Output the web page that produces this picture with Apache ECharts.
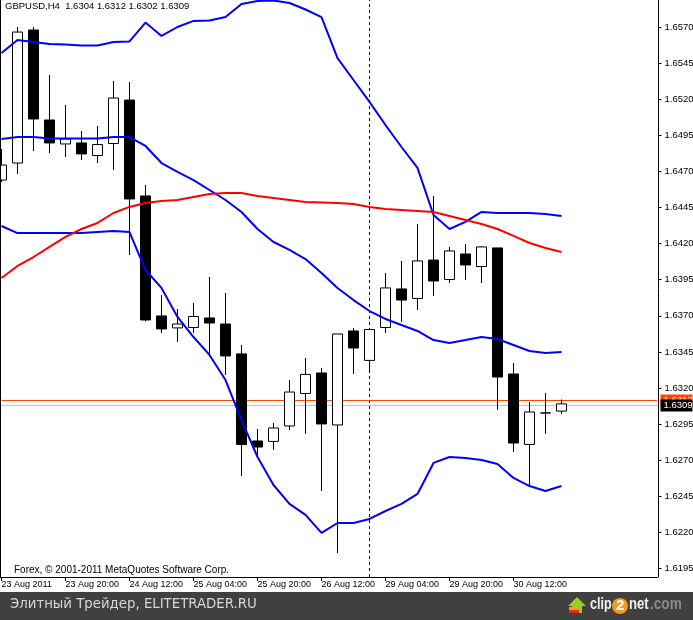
<!DOCTYPE html>
<html><head><meta charset="utf-8">
<style>html,body{margin:0;padding:0;background:#fff}#c{width:693px;height:620px}</style>
<script src="https://cdn.jsdelivr.net/npm/echarts@6/dist/echarts.min.js"></script>
</head><body><div id="c"></div>
<script>
const barLabels=["23 Aug 2011","23 Aug 08:00","23 Aug 12:00","23 Aug 16:00","23 Aug 20:00","24 Aug 00:00","24 Aug 04:00","24 Aug 08:00","24 Aug 12:00","24 Aug 16:00","24 Aug 20:00","25 Aug 00:00","25 Aug 04:00","25 Aug 08:00","25 Aug 12:00","25 Aug 16:00","25 Aug 20:00","26 Aug 00:00","26 Aug 04:00","26 Aug 08:00","26 Aug 12:00","26 Aug 16:00","26 Aug 20:00","29 Aug 00:00","29 Aug 04:00","29 Aug 08:00","29 Aug 12:00","29 Aug 16:00","29 Aug 20:00","30 Aug 00:00","30 Aug 04:00","30 Aug 08:00","30 Aug 12:00","30 Aug 16:00","30 Aug 20:00","31 Aug 00:00","","","","","",""];
const opens=[1.64640,1.64758,1.65679,1.65056,1.64890,1.64897,1.64810,1.64893,1.65194,1.64530,1.63699,1.63616,1.63619,1.63685,1.63643,1.63436,1.62833,1.62830,1.62937,1.63162,1.63304,1.62944,1.63595,1.63391,1.63619,1.63886,1.63820,1.64086,1.63951,1.64128,1.64041,1.64170,1.63297,1.62809,1.63027,1.6304];
const closes=[1.64744,1.65665,1.65063,1.64897,1.64924,1.64821,1.64886,1.65208,1.64509,1.63671,1.63609,1.63643,1.63695,1.63650,1.63422,1.62809,1.62791,1.62923,1.63172,1.63294,1.62951,1.63574,1.63477,1.63605,1.63893,1.63809,1.64080,1.63941,1.64149,1.64052,1.64177,1.63276,1.62819,1.63034,1.63027,1.6309];
const lows=[1.64627,1.64682,1.64841,1.64827,1.64800,1.64779,1.64758,1.64710,1.64121,1.63661,1.63581,1.63519,1.63581,1.63415,1.63290,1.62591,1.62736,1.62771,1.62909,1.62882,1.62487,1.62057,1.63297,1.63311,1.63581,1.63657,1.63740,1.63837,1.63927,1.63948,1.63927,1.63048,1.62757,1.62521,1.62882,1.6302];
const highs=[1.64855,1.65700,1.65700,1.65368,1.65160,1.64980,1.65014,1.65326,1.65319,1.64606,1.63844,1.63747,1.63789,1.63969,1.63858,1.63498,1.62916,1.62958,1.63255,1.63408,1.63339,1.63574,1.63616,1.63609,1.63996,1.64080,1.64336,1.64530,1.64177,1.64197,1.64183,1.64170,1.63373,1.63103,1.63165,1.6312];
const upperBand=[1.65520,1.65610,1.65596,1.65582,1.65579,1.65572,1.65572,1.65596,1.65600,1.65731,1.65638,1.65700,1.65742,1.65745,1.65769,1.65859,1.65880,1.65884,1.65866,1.65821,1.65769,1.65485,1.65333,1.65181,1.65021,1.64869,1.64724,1.64398,1.64301,1.64350,1.64419,1.64412,1.64412,1.64412,1.64405,1.64391];
const middleBand=[1.64924,1.64938,1.64938,1.64928,1.64928,1.64928,1.64928,1.64938,1.64938,1.64876,1.64758,1.64696,1.64640,1.64571,1.64502,1.64419,1.64301,1.64211,1.64156,1.64093,1.63996,1.63893,1.63809,1.63733,1.63678,1.63636,1.63595,1.63532,1.63512,1.63532,1.63553,1.63539,1.63498,1.63456,1.63442,1.63449];
const lowerBand=[1.64322,1.64273,1.64273,1.64273,1.64273,1.64273,1.64280,1.64287,1.64280,1.64017,1.63893,1.63692,1.63553,1.63429,1.63255,1.62978,1.62722,1.62528,1.62397,1.62321,1.62196,1.62265,1.62265,1.62293,1.62348,1.62397,1.62466,1.62681,1.62722,1.62715,1.62701,1.62674,1.62577,1.62521,1.62487,1.62521];
const maLine=[1.63962,1.64045,1.64107,1.64177,1.64246,1.64301,1.64343,1.64412,1.64454,1.64481,1.64495,1.64502,1.64523,1.64544,1.64550,1.64550,1.64530,1.64516,1.64502,1.64488,1.64485,1.64481,1.64474,1.64454,1.64440,1.64433,1.64426,1.64419,1.64391,1.64363,1.64336,1.64301,1.64253,1.64204,1.64170,1.64142];
const priceTicks=[1.6195,1.6220,1.6245,1.6270,1.6295,1.6320,1.6345,1.6370,1.6395,1.6420,1.6445,1.6470,1.6495,1.6520,1.6545,1.6570];
const timeTickBars=[0,4,8,12,16,20,24,28,32];
const bidLevel=1.63079, askLevel=1.63114;
const bidLabel="1.6309", askLabel="1.6312";
const markerBar=23;
const titleText="GBPUSD,H4  1.6304 1.6312 1.6302 1.6309";
const copyrightText="Forex, © 2001-2011 MetaQuotes Software Corp.";
const footerText="Элитный Трейдер, ELITETRADER.RU";

const axisFont="'Liberation Sans'";
const candles=opens.map((o,i)=>[o,closes[i],lows[i],highs[i]]);
const band=(name,data,color)=>({name,type:'line',data,z:5,showSymbol:false,symbol:'none',smooth:false,animation:false,silent:true,lineStyle:{color,width:2},clip:true});
const chart=echarts.init(document.getElementById('c'),null,{renderer:'canvas'});
chart.setOption({
  animation:false,
  backgroundColor:'#ffffff',
  grid:{left:1.5,top:0,width:656,height:577,containLabel:false,outerBoundsMode:'none'},
  xAxis:{type:'category',boundaryGap:false,data:barLabels,
    axisLine:{show:true,lineStyle:{color:'#000',width:1}},
    axisTick:{show:true,customValues:timeTickBars,length:4,lineStyle:{color:'#000'}},
    axisLabel:{interval:3,align:'left',margin:3,color:'#000',fontFamily:axisFont,fontSize:9,showMinLabel:true,hideOverlap:false},
    splitLine:{show:false}},
  yAxis:{type:'value',position:'right',offset:1,min:1.61891,max:1.65887,scale:true,
    axisLine:{show:true,onZero:false,lineStyle:{color:'#000',width:1}},
    axisTick:{show:true,length:3,customValues:priceTicks,lineStyle:{color:'#000'}},
    axisLabel:{customValues:priceTicks,margin:6,color:'#000',fontFamily:axisFont,fontSize:9.5,formatter:v=>v.toFixed(4)},
    splitLine:{show:false}},
  series:[
    {name:'GBPUSD',type:'candlestick',data:candles,z:3,barWidth:10,silent:true,clip:true,
      itemStyle:{color:'#ffffff',color0:'#000000',borderColor:'#000000',borderColor0:'#000000',borderWidth:1},
      markLine:{silent:true,symbol:'none',animation:false,precision:5,z:1,data:[
        {xAxis:markerBar,lineStyle:{color:'#000',type:[3,3],width:1},label:{show:false}},
        {yAxis:askLevel,lineStyle:{color:'#ff4500',type:'solid',width:1},label:{show:true,position:'end',distance:3,formatter:askLabel,color:'#fff',backgroundColor:'#ff4500',fontFamily:axisFont,fontSize:9.5,padding:[1,3,1,3],width:26}},
        {yAxis:bidLevel,lineStyle:{color:'#c0c0c0',type:'solid',width:1},label:{show:true,position:'end',distance:3,formatter:bidLabel,color:'#fff',backgroundColor:'#000',fontFamily:axisFont,fontSize:9.5,padding:[1,3,1,3],width:26}}
      ]}},
    band('Upper',upperBand,'#0000ff'),
    band('Middle',middleBand,'#0000ff'),
    band('Lower',lowerBand,'#0000ff'),
    band('MA',maLine,'#ff0000')
  ],
  graphic:[
    {type:'rect',silent:true,z:20,shape:{x:0,y:0,width:1,height:578},style:{fill:'#000'}},
    {type:'text',silent:true,z:20,x:5,y:0,style:{text:titleText,font:"9.5px 'Liberation Sans'",fill:'#000',y:1}},
    {type:'text',silent:true,z:20,x:14,y:565,style:{text:copyrightText,font:"10px 'Liberation Sans'",fill:'#000'}},
    {type:'rect',silent:true,z:20,shape:{x:0,y:592,width:693,height:28},style:{fill:'#404040'}},
    {type:'text',silent:true,z:21,x:10,y:598,style:{text:footerText,font:"13.3px 'DejaVu Sans'",fill:'#d8d8d8'}},
    {type:'polygon',silent:true,z:21,shape:{points:[[577,597],[586,606],[582,606],[582,613],[572,613],[572,606],[568,606]]},style:{fill:'#9ccc28'}},
    {type:'rect',silent:true,z:22,shape:{x:569,y:607,width:10,height:3},style:{fill:'#f6a01a'}},
    {type:'rect',silent:true,z:22,shape:{x:569,y:610,width:10,height:3},style:{fill:'#d8301a'}},
    {type:'text',silent:true,z:21,x:590,y:597,scaleX:0.78,style:{text:'clip',font:"bold 16px 'Liberation Sans'",fill:'#f0f0f0'}},
    {type:'circle',silent:true,z:21,shape:{cx:620,cy:606,r:8},style:{fill:'#f29a1e'}},
    {type:'text',silent:true,z:22,x:616,y:598,style:{text:'2',font:"bold 15px 'Liberation Sans'",fill:'#ffffff'}},
    {type:'text',silent:true,z:21,x:629,y:597,scaleX:0.82,style:{text:'net',font:"bold 16px 'Liberation Sans'",fill:'#f0f0f0'}},
    {type:'text',silent:true,z:21,x:650,y:597,scaleX:0.85,style:{text:'.com',font:"bold 16px 'Liberation Sans'",fill:'#8c8c8c'}}
  ]
});
</script></body></html>
